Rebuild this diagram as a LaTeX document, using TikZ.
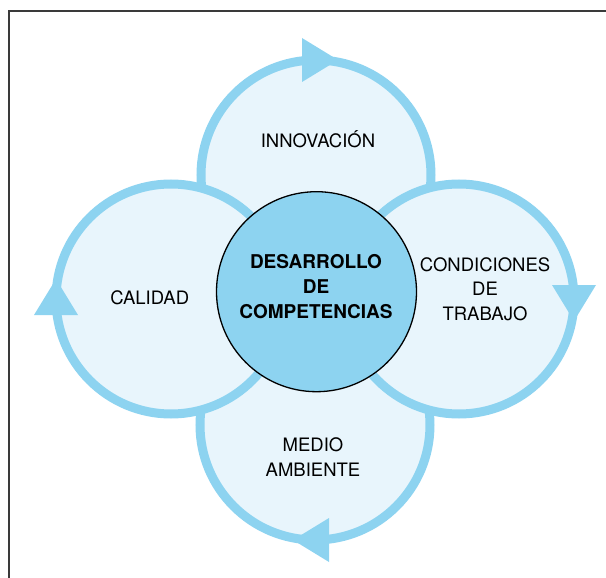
\documentclass[tikz,border=0pt]{standalone}
\usepackage{fontspec}
\setmainfont{TeX Gyre Heros}
\usepackage{xcolor}
\usepackage{tikz}
\usetikzlibrary{calc}

\definecolor{ringblue}{HTML}{8DD3F0}
\definecolor{paleblue}{HTML}{E8F5FC}
\definecolor{framegray}{HTML}{3A3A3A}

\tikzset{
  ring/.style={circle, draw=ringblue, fill=paleblue, line width=9pt,
    minimum size=230pt, inner sep=0pt, outer sep=0pt},
  core/.style={circle, draw=black, fill=ringblue, line width=1.3pt,
    minimum size=200pt, inner sep=0pt, outer sep=0pt},
  lbl/.style={anchor=base, align=center, inner sep=0pt,
    font=\fontsize{18.5}{24.5}\selectfont},
  tip/.style={fill=ringblue}
}

\begin{document}
\begin{tikzpicture}[x=1pt, y=-1pt]
  \useasboundingbox (0,0) rectangle (606,578);
  % frame
  \draw[framegray, line width=1.3pt] (9,578) -- (9,11) -- (606,11);

  \node[ring] (innov) at (316,175) {};
  \node[ring] (medio) at (315,425) {};
  \node[ring] (calid) at (171,299) {};
  \node[ring] (condic) at (459,299) {};
  \node[core] (centro) at (316.5,291.7) {};

  % arrowheads
  \fill[tip] ($(innov.north)+(-14,-22)$) -- ($(innov.north)+(-14,22)$) -- ($(innov.north)+(22,0)$) -- cycle;
  \fill[tip] ($(condic.east)+(-22,-14)$) -- ($(condic.east)+(22,-14)$) -- ($(condic.east)+(0,22)$) -- cycle;
  \fill[tip] ($(medio.south)+(14,-22)$) -- ($(medio.south)+(14,22)$) -- ($(medio.south)+(-22,0)$) -- cycle;
  \fill[tip] ($(calid.west)+(-22,16)$) -- ($(calid.west)+(22,16)$) -- ($(calid.west)+(0,-20)$) -- cycle;

  % labels (base = last line)
  \node[lbl] (innovtxt) at (318,147.3) {INNOVACIÓN};
  \node[lbl] (calidtxt) at (149.7,304.3) {CALIDAD};
  \node[lbl] (condictxt) at (485,320) {CONDICIONES\\DE\\TRABAJO};
  \node[lbl] (mediotxt) at (313,476) {MEDIO\\AMBIENTE};
  \node[lbl, font=\fontsize{19}{25}\selectfont\bfseries] (centrotxt) at (316,318.3) {DESARROLLO\\DE\\COMPETENCIAS};
\end{tikzpicture}
\end{document}
